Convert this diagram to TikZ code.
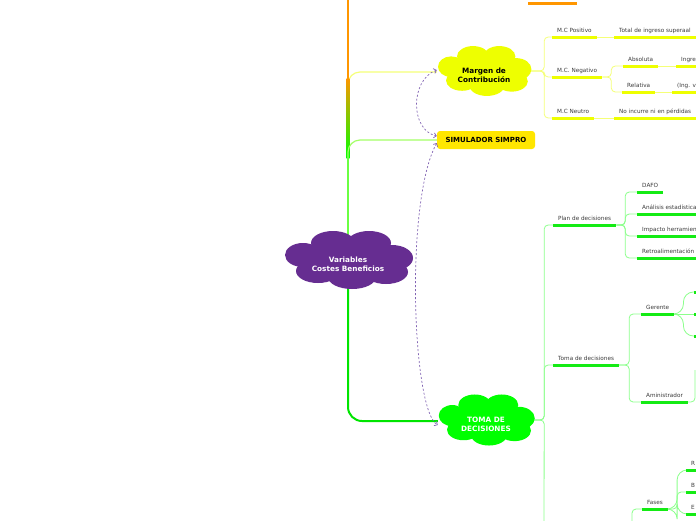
\documentclass[tikz,border=0pt]{standalone}
\usepackage{fontspec}
\setmainfont{DejaVu Sans}
\usetikzlibrary{arrows.meta,positioning,backgrounds}
\definecolor{rootpurple}{RGB}{102,45,145}
\definecolor{margyel}{RGB}{238,255,0}
\definecolor{simuyel}{RGB}{255,230,0}
\definecolor{tomagreen}{RGB}{0,255,0}
\definecolor{ulgreen}{RGB}{20,235,20}
\definecolor{lkgreen}{RGB}{140,255,140}
\definecolor{lkyel}{RGB}{245,255,120}
\definecolor{trunkorange}{RGB}{255,150,0}
\definecolor{dashpurple}{RGB}{130,100,180}
\definecolor{leaftext}{RGB}{60,60,60}

% cloud of puffs: centre, colour, xscale, yscale
\newcommand\puffcloud[4]{%
  \begin{scope}[shift={#1}, xscale=#3, yscale=#4]
    \foreach \dx/\dy/\rx/\ry in {-15/-17/22/12, 21/-17/22/12, -45/-5/18/12, 44/-2/21/13,
                                 -30/11/22/12, 4/17/24/12, 38/12/22/12, 0/0/45/18}
      \fill[#2] (\dx,\dy) ellipse [x radius=\rx, y radius=\ry];
  \end{scope}}

\begin{document}
\begin{tikzpicture}[x=1pt, y=-1pt,
  bubble/.style={inner sep=0pt, align=center, font=\fontsize{7.3}{8.8}\selectfont\bfseries},
  box/.style={draw=none, fill=simuyel, rounded corners=3pt, minimum width=98pt, minimum height=18pt, font=\fontsize{7}{8}\selectfont\bfseries},
  leaf/.style={anchor=south west, inner xsep=5pt, inner ysep=3.3pt, text height=4pt, text depth=1.2pt, font=\fontsize{5.7}{6}\selectfont, text=leaftext},
  yline/.style={draw=margyel, line width=3pt},
  gline/.style={draw=ulgreen, line width=3pt},
  yleaf/.style={leaf, append after command={(\tikzlastnode.south west) edge[yline] (\tikzlastnode.south east)}},
  gleaf/.style={leaf, append after command={(\tikzlastnode.south west) edge[gline] (\tikzlastnode.south east)}},
  ylink/.style={draw=lkyel, line width=0.8pt, rounded corners=4pt},
  glink/.style={draw=lkgreen, line width=0.8pt, rounded corners=4pt},
  trunk/.style={line width=2.8pt},
  link/.style={dashpurple, dash pattern=on 2pt off 2pt, line width=0.7pt, {Straight Barb[length=2.5pt,width=5pt]}-{Straight Barb[length=2.5pt,width=5pt]}},
]
\useasboundingbox (0,0) rectangle (696,520);
\clip (0,0) rectangle (696,520);

% main topics
\puffcloud{(348,260)}{rootpurple}{1}{1}
\node[bubble, text=white, minimum width=128pt, minimum height=58pt] (root) at (348,264) {Variables\\Costes Beneficios};
\puffcloud{(484,71)}{margyel}{0.73}{0.86}
\node[bubble, minimum width=94pt, minimum height=50pt] (margen) at (484,75) {Margen de\\Contribución};
\node[box] (simu) at (486,140) {SIMULADOR SIMPRO};
\puffcloud{(486,420)}{tomagreen}{0.75}{0.88}
\node[bubble, text=white, minimum width=96pt, minimum height=51pt] (toma) at (486,424) {TOMA DE\\DECISIONES};

\coordinate (top) at (348,-5);

% margen de contribucion
\node[yleaf] (mcpos) at (552,37) {M.C Positivo};
\node[yleaf] (mcneg) at (552,77) {M.C. Negativo};
\node[yleaf] (mcneu) at (552,118) {M.C Neutro};
\node[yleaf] (totpos) at (614,37) {Total de ingreso superaal};
\node[yleaf] (absol) at (623,66) {Absoluta};
\node[yleaf] (relat) at (622,92) {Relativa};
\node[yleaf] (ingabs) at (676,66) {Ingre};
\node[yleaf] (ingrel) at (672,92) {(Ing. v};
\node[yleaf] (noinc) at (614,118) {No incurre ni en pérdidas};

% toma de decisiones
\node[gleaf] (plan) at (553,225) {Plan de decisiones};
\node[gleaf] (dafo) at (637,192) {DAFO};
\node[gleaf] (anal) at (637,214) {Análisis estadística};
\node[gleaf] (impac) at (637,236) {Impacto herramientas};
\node[gleaf] (retro) at (637,258) {Retroalimentación};
\node[gleaf] (tomad) at (553,365) {Toma de decisiones};
\node[gleaf] (geren) at (641,314) {Gerente};
\node[gleaf] (amin) at (641,402) {Aministrador};
\node[gleaf] (fases) at (642,509) {Fases};
\node[gleaf] (fr) at (686,470) {R};
\node[gleaf] (fb) at (686,492) {B};
\node[gleaf] (fe) at (686,514) {E};
\coordinate (g1) at (694,292);
\coordinate (g2) at (694,314);
\coordinate (g3) at (694,336);
\coordinate (aminup) at (695,370);
\coordinate (fasesdown) at (632,530);
\coordinate (tomadown) at (544,530);

\begin{scope}[on background layer]
\fill[white] (0,0) rectangle (696,520);
% branches from the root
\draw[trunk, trunkorange] (root.center) -- (top);
\draw[trunkorange, line width=3pt] (528,3) -- (577,3);
\draw[lkyel, line width=1.2pt, rounded corners=12pt] (root.center) |- ([yshift=3pt]margen.west);
\shade[top color=trunkorange, middle color=margyel, bottom color=tomagreen] (346.6,78) rectangle (349.4,158);
\draw[trunk, tomagreen] (root.center) -- (348,156);
\draw[green!60!yellow!60, line width=1.2pt, rounded corners=12pt] (root.center) |- (simu.west);
\draw[tomagreen!90!black, line width=2pt, rounded corners=14pt] (root.center) |- ([yshift=3pt]toma.west);
\draw[trunk, tomagreen!90!black] (root.center) -- (348,400);

% margen children
\draw[ylink] ([yshift=4pt]margen.east) -- ++(13,0) |- (mcpos.south west);
\draw[ylink] ([yshift=4pt]margen.east) -- ++(13,0) |- (mcneg.south west);
\draw[ylink] ([yshift=4pt]margen.east) -- ++(13,0) |- (mcneu.south west);
\draw[ylink] (mcpos.south east) -- (totpos.south west);
\draw[ylink] (mcneg.south east) -- ++(9,0) |- (absol.south west);
\draw[ylink] (mcneg.south east) -- ++(9,0) |- (relat.south west);
\draw[ylink] (absol.south east) -- (ingabs.south west);
\draw[ylink] (relat.south east) -- (ingrel.south west);
\draw[ylink] (mcneu.south east) -- (noinc.south west);

% toma children
\draw[glink] ([yshift=4pt]toma.east) -- ++(10,0) |- (plan.south west);
\draw[glink] ([yshift=4pt]toma.east) -- ++(10,0) |- (tomad.south west);
\draw[glink] ([yshift=4pt]toma.east) -- ++(10,0) -- (tomadown);
\draw[glink] (plan.south east) -- ++(9,0) |- (dafo.south west);
\draw[glink] (plan.south east) -- ++(9,0) |- (anal.south west);
\draw[glink] (plan.south east) -- ++(9,0) |- (impac.south west);
\draw[glink] (plan.south east) -- ++(9,0) |- (retro.south west);
\draw[glink] (tomad.south east) -- ++(10,0) |- (geren.south west);
\draw[glink] (tomad.south east) -- ++(10,0) |- (amin.south west);
\draw[glink, rounded corners=10pt] (geren.south east) -- ++(9,0) |- (g1);
\draw[glink] (geren.south east) -- (g2);
\draw[glink, rounded corners=10pt] (geren.south east) -- ++(9,0) |- (g3);
\draw[gline] (g1) -- ++(6,0);
\draw[gline] (g2) -- ++(6,0);
\draw[gline] (g3) -- ++(6,0);
\draw[glink] (amin.south east) -| (aminup);
\draw[glink] (fases.south west) -| (fasesdown);
\draw[glink, rounded corners=10pt] (fases.south east) -- ++(9,0) |- (fr.south west);
\draw[glink] (fases.south east) -- ++(9,0) |- (fb.south west);
\draw[glink, rounded corners=10pt] (fases.south east) -- ++(9,0) |- (fe.south west);
\end{scope}

% links
\draw[link] ([yshift=5pt]margen.west) .. controls (410,80) and (410,130) .. ([yshift=4pt]simu.west);
\draw[link] ([yshift=-3pt]simu.west) .. controls (405,200) and (412,410) .. ([yshift=-1pt]toma.west);
\end{tikzpicture}
\end{document}
